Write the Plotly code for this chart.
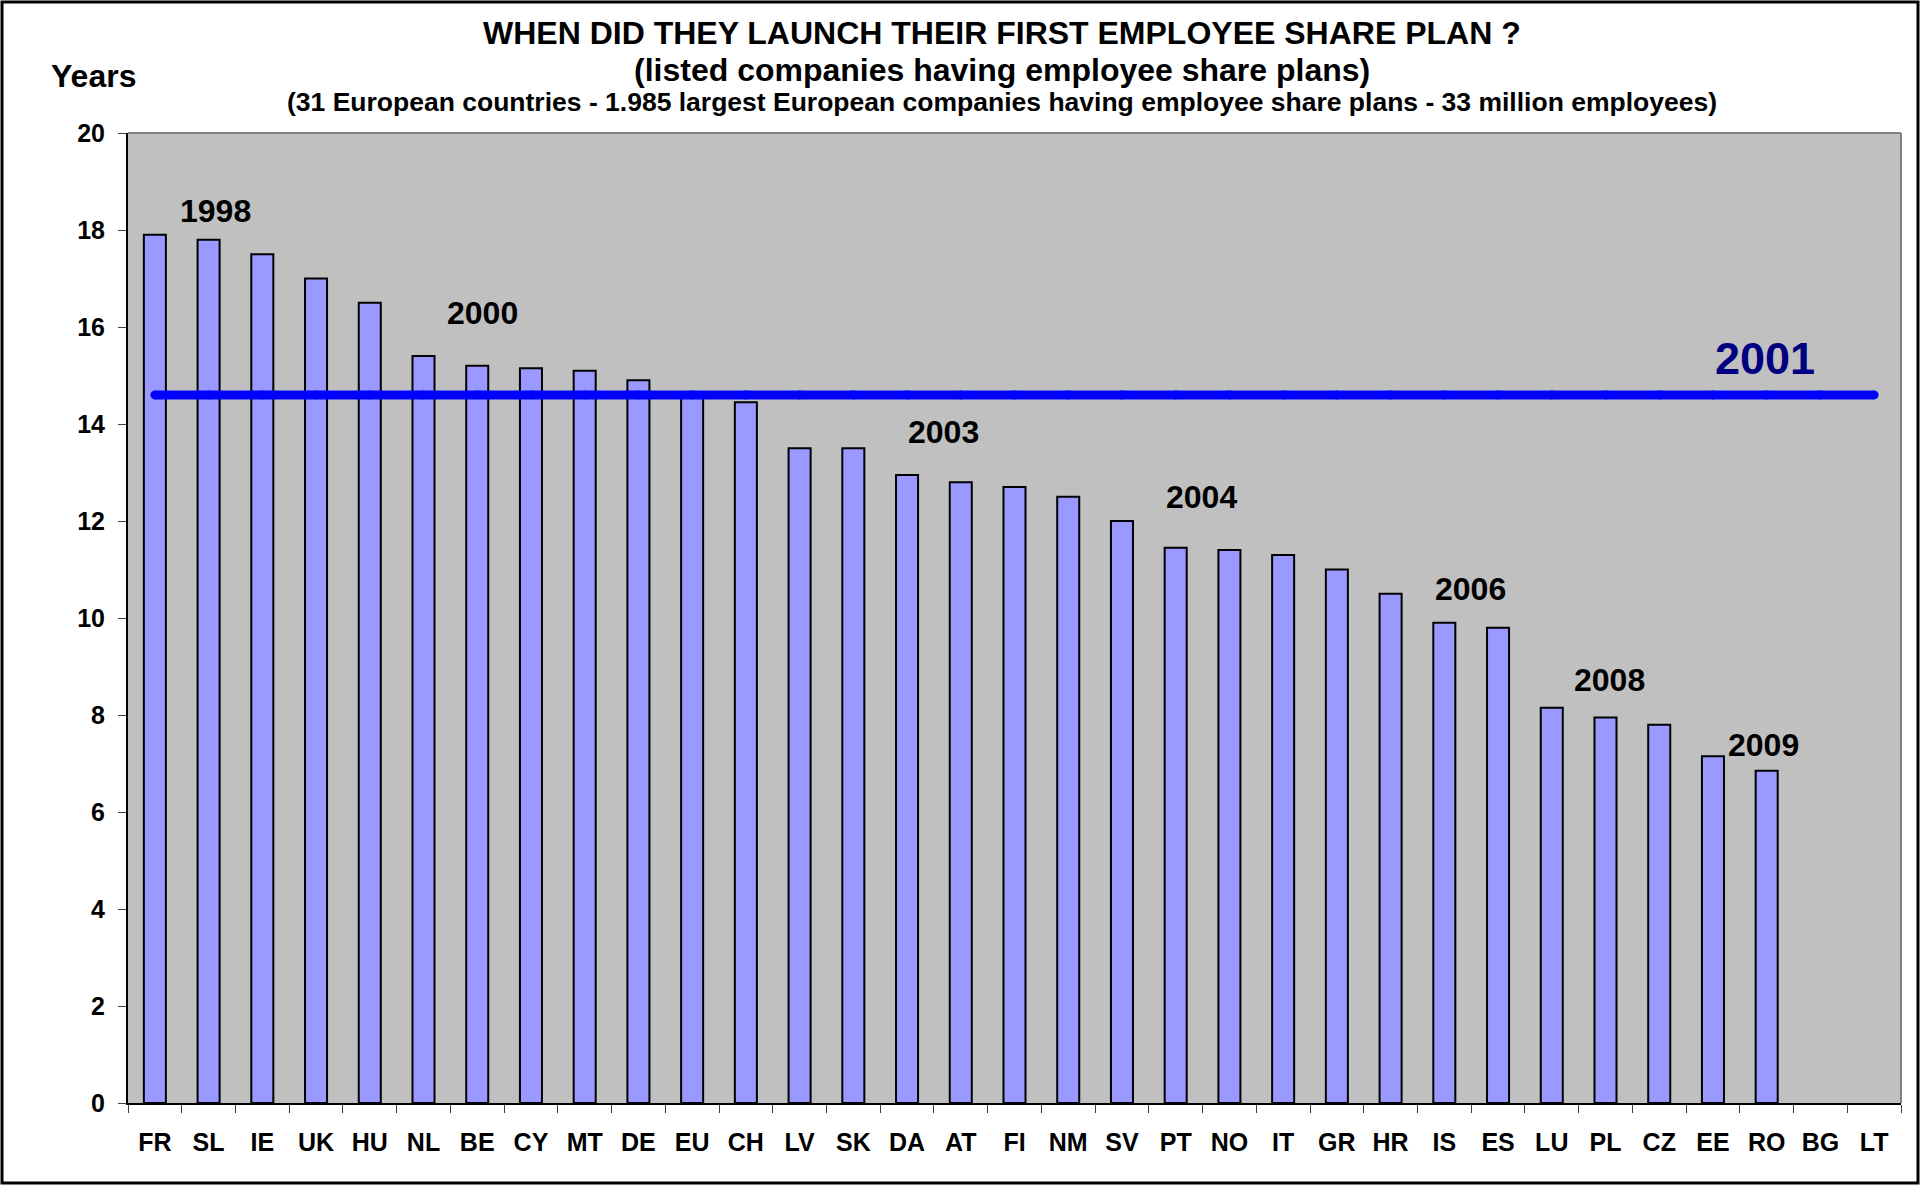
import plotly.graph_objects as go

# countries, ordered as in the chart
countries = ["FR", "SL", "IE", "UK", "HU", "NL", "BE", "CY", "MT", "DE", "EU",
             "CH", "LV", "SK", "DA", "AT", "FI", "NM", "SV", "PT", "NO", "IT",
             "GR", "HR", "IS", "ES", "LU", "PL", "CZ", "EE", "RO", "BG", "LT"]
# years since the first employee share plan was launched
years_since = [17.9, 17.8, 17.5, 17.0, 16.5, 15.4, 15.2, 15.15, 15.1, 14.9, 14.6,
               14.45, 13.5, 13.5, 12.95, 12.8, 12.7, 12.5, 12.0, 11.45, 11.4, 11.3,
               11.0, 10.5, 9.9, 9.8, 8.15, 7.95, 7.8, 7.15, 6.85, None, None]
# european average
average_years = 14.6
average_label = "2001"
# launch year markers
launch_years = ["1998", "2000", "2003", "2004", "2006", "2008", "2009"]

FONT = "Arial, Liberation Sans, sans-serif"

fig = go.Figure()
fig.add_trace(go.Bar(
    x=countries, y=years_since,
    marker=dict(color="#9999FF", line=dict(color="black", width=2)),
    showlegend=False,
))
# average line, markers give it round ends
fig.add_trace(go.Scatter(
    x=countries, y=[average_years] * len(countries),
    mode="lines+markers",
    line=dict(color="#0000FF", width=9),
    marker=dict(color="#0000FF", size=9),
    showlegend=False,
))

# where the year labels sit (category index, value)
label_pos = [(1.12, 18.4), (6.09, 16.29), (14.67, 13.83), (19.48, 12.49),
             (24.48, 10.6), (27.08, 8.72), (29.94, 7.38)]
for txt, (px, py) in zip(launch_years, label_pos):
    fig.add_annotation(x=px, y=py, xref="x", yref="y", text=txt, showarrow=False,
                       font=dict(family=FONT, size=32, color="black", weight="bold"))
fig.add_annotation(x=29.97, y=15.36, xref="x", yref="y", text=average_label,
                   showarrow=False,
                   font=dict(family=FONT, size=45, color="#000080", weight="bold"))

# titles
titles = [("WHEN DID THEY LAUNCH THEIR FIRST EMPLOYEE SHARE PLAN ?", 32, 33),
          ("(listed companies having employee share plans)", 32, 70),
          ("(31 European countries - 1.985 largest European companies having "
           "employee share plans - 33 million employees)", 26.5, 102)]
ML, MR, MT, MB = 128, 22, 133, 82
PW, PH = 1923 - ML - MR, 1185 - MT - MB
for txt, size, ypx in titles:
    fig.add_annotation(x=(1002 - ML) / PW, y=1 + (MT - ypx) / PH, xref="paper", yref="paper",
                       text=txt, showarrow=False, xanchor="center", yanchor="middle",
                       font=dict(family=FONT, size=size, color="black", weight="bold"))
fig.add_annotation(x=(93 - ML) / PW, y=1 + (MT - 76) / PH, xref="paper", yref="paper",
                   text="Years", showarrow=False, xanchor="center", yanchor="middle",
                   font=dict(family=FONT, size=32, color="black", weight="bold"))

# outer frame and grey top/right edges of plot area
fig.add_shape(type="rect", xref="paper", yref="paper",
              x0=(2 - ML) / PW, x1=(1918 - ML) / PW,
              y0=(1185 - MB - 1183) / PH, y1=1 + (MT - 2) / PH,
              line=dict(color="black", width=3))
fig.add_shape(type="line", xref="paper", yref="paper", x0=0, x1=1, y0=1, y1=1,
              line=dict(color="#808080", width=2))
fig.add_shape(type="line", xref="paper", yref="paper", x0=1, x1=1, y0=0, y1=1,
              line=dict(color="#808080", width=2))

fig.update_layout(
    width=1923, height=1185,
    margin=dict(l=ML, r=MR, t=MT, b=MB),
    paper_bgcolor="white", plot_bgcolor="#C0C0C0",
    bargap=0.59,
    font=dict(family=FONT, color="black"),
)
fig.update_xaxes(
    type="category", range=[-0.5, len(countries) - 0.5],
    showline=True, linecolor="black", linewidth=2,
    ticks="outside", tickson="boundaries", ticklen=8, tickcolor="#404040",
    tickfont=dict(family=FONT, size=25, color="black", weight="bold"),
    ticklabelstandoff=16, showgrid=False,
)
fig.update_yaxes(
    range=[0, 20], dtick=2,
    showline=True, linecolor="black", linewidth=2,
    ticks="outside", ticklen=8, tickcolor="#404040",
    tickfont=dict(family=FONT, size=25, color="black", weight="bold"),
    ticklabelstandoff=8, showgrid=False, zeroline=False,
)

fig.write_html("out.html", config={"displayModeBar": False},
               post_script="document.body.style.margin='0';")
